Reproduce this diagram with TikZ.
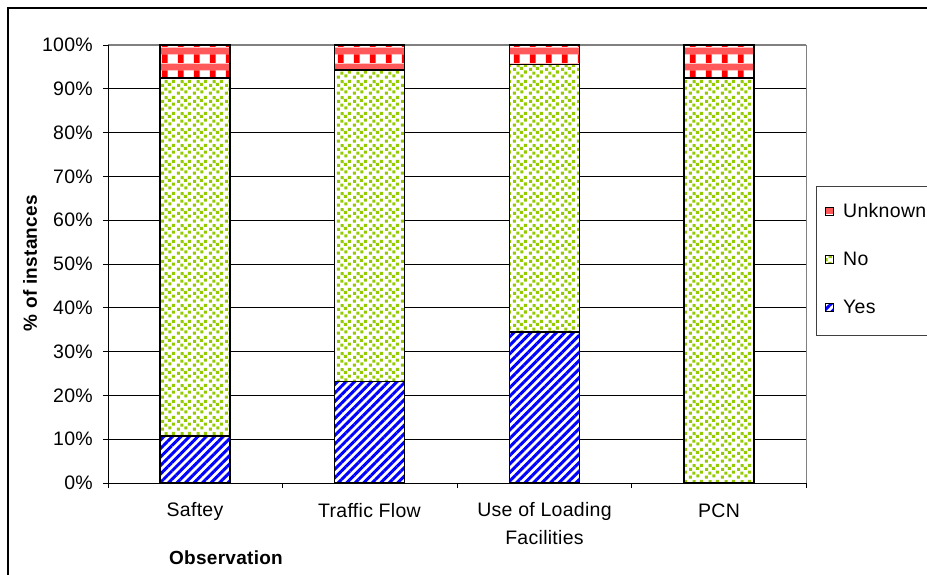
\documentclass[tikz,border=0pt]{standalone}
\usepackage{fontspec}
\setmainfont{Liberation Sans}[LetterSpace=1.5]
\usetikzlibrary{patterns,patterns.meta}
\pgfdeclarepatternformonly{gdots}{\pgfpointorigin}{\pgfqpoint{16pt}{16pt}}{\pgfqpoint{16pt}{16pt}}{%
  \pgfpathrectangle{\pgfqpoint{0.8pt}{0.4pt}}{\pgfqpoint{3.2pt}{3.2pt}}%
  \pgfpathrectangle{\pgfqpoint{8.8pt}{1.6pt}}{\pgfqpoint{3.2pt}{3.2pt}}%
  \pgfpathrectangle{\pgfqpoint{4.6pt}{4.6pt}}{\pgfqpoint{3.2pt}{3.2pt}}%
  \pgfpathrectangle{\pgfqpoint{12.4pt}{5.8pt}}{\pgfqpoint{3.2pt}{3.2pt}}%
  \pgfpathrectangle{\pgfqpoint{1.2pt}{8.6pt}}{\pgfqpoint{3.2pt}{3.2pt}}%
  \pgfpathrectangle{\pgfqpoint{8.4pt}{9.6pt}}{\pgfqpoint{3.2pt}{3.2pt}}%
  \pgfpathrectangle{\pgfqpoint{4.8pt}{12.6pt}}{\pgfqpoint{3.2pt}{3.2pt}}%
  \pgfpathrectangle{\pgfqpoint{12.6pt}{12.8pt}}{\pgfqpoint{3.2pt}{3.2pt}}%
  \pgfusepath{fill}}
\pgfdeclarepatterninherentlycolored{redplaid}{\pgfpointorigin}{\pgfqpoint{16pt}{16pt}}{\pgfqpoint{16pt}{16pt}}{%
  \pgfsetfillcolor{red!65}%
  \pgfpathrectangle{\pgfqpoint{0pt}{9pt}}{\pgfqpoint{16pt}{7pt}}\pgfusepath{fill}%
  \pgfsetfillcolor{red}%
  \pgfpathrectangle{\pgfqpoint{2pt}{0pt}}{\pgfqpoint{6pt}{9pt}}\pgfusepath{fill}}
\definecolor{lime}{RGB}{150,202,0}
\tikzset{
  lbl/.style={font=\fontsize{19.5}{23}\selectfont, inner sep=0pt},
  yespat/.style={pattern={Lines[angle=45,distance=6pt,line width=3pt]}, pattern color=blue},
  nopat/.style={pattern=gdots, pattern color=lime},
  unkpat/.style={pattern=redplaid},
  grid line/.style={black, line width=0.8pt},
  barframe/.style={black, line width=1.4pt},
}
\begin{document}
\begin{tikzpicture}[x=1pt,y=-1pt]
\useasboundingbox (0,0) rectangle (927,575);
\fill[white] (0,0) rectangle (927,575);
% outer chart frame
\draw[line width=1.5pt] (8,580) -- (8,8) -- (930,8);
% gridlines
\foreach \p in {10,20,...,90} {
  \draw[grid line] (108,{483-4.38*\p}) -- (806,{483-4.38*\p});
}
\draw[gray, line width=1.3pt] (108,45) -- (806,45);
\draw[gray, line width=1pt] (806,45) -- (806,483);
% y axis ticks and labels
\foreach \p in {0,10,...,100} {
  \draw[black, line width=0.8pt] (103,{483-4.38*\p}) -- (108,{483-4.38*\p});
  \node[lbl, anchor=east] at (93,{483-4.38*\p}) {\p\%};
}
% bars
\foreach \c/\a/\b in {195/10.7/92.5, 369.5/23.2/94.3, 544.5/34.5/95.6, 719/0/92.5} {
  \fill[white] (\c-35,483) rectangle (\c+35,45);
  \fill[yespat] (\c-35,483) rectangle (\c+35,{483-4.38*\a});
  \fill[nopat] (\c-35,{483-4.38*\a}) rectangle (\c+35,{483-4.38*\b});
  \fill[unkpat] (\c-35,{483-4.38*\b}) rectangle (\c+35,45);
  \draw[barframe] (\c-35,{483-4.38*\a}) -- (\c+35,{483-4.38*\a});
  \draw[barframe] (\c-35,{483-4.38*\b}) -- (\c+35,{483-4.38*\b});
  \draw[barframe] (\c-35,483) rectangle (\c+35,45);
}
% axes
\draw[black, line width=1pt] (108,45) -- (108,483);
\draw[black, line width=1pt] (108,483) -- (806,483);
\foreach \x in {108,282.5,457,631.5,806} {
  \draw[black, line width=0.8pt] (\x,483) -- (\x,488);
}
% category labels
\node[lbl] (c1) at (195,511) {Saftey};
\node[lbl] (c2) at (369.5,511) {Traffic Flow};
\node[lbl] (c3a) at (544.5,511) {Use of Loading};
\node[lbl] (c3b) at (544.5,538) {Facilities};
\node[lbl] (c4) at (719,511) {PCN};
\node[lbl, font=\fontsize{19}{23}\selectfont\bfseries] (xt) at (226,558) {Observation};
\node[lbl, font=\fontsize{19}{23}\selectfont\bfseries, rotate=90] (yt) at (30,263) {\% of instances};
% legend
\draw[black!75, line width=1pt, fill=white] (816,187) rectangle (935,335);
\foreach \yy/\st/\t in {211/unkpat/Unknown, 259/nopat/No, 307/yespat/Yes} {
  \fill[white] (825,\yy-4) rectangle (833,\yy+4);
  \fill[\st] (825,\yy-4) rectangle (833,\yy+4);
  \draw[black, line width=0.9pt] (825,\yy-4) rectangle (833,\yy+4);
  \node[lbl, anchor=west] at (843,\yy) {\t};
}
\end{tikzpicture}
\end{document}
